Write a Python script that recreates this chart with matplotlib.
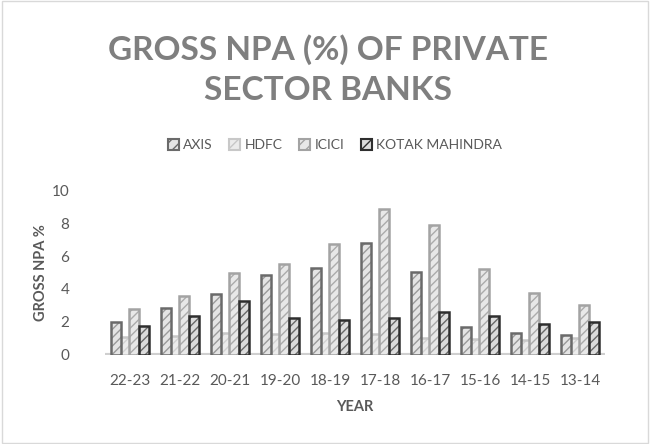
import matplotlib
matplotlib.use("Agg")
import matplotlib.pyplot as plt
import numpy as np
from matplotlib.patches import Rectangle

years = ["22-23", "21-22", "20-21", "19-20", "18-19", "17-18", "16-17", "15-16", "14-15", "13-14"]
axis_v = [2.02, 2.82, 3.70, 4.86, 5.26, 6.77, 5.04, 1.67, 1.34, 1.22]
hdfc_v = [1.12, 1.17, 1.32, 1.26, 1.36, 1.30, 1.05, 0.94, 0.90, 1.00]
icici_v = [2.81, 3.60, 4.96, 5.53, 6.70, 8.84, 7.89, 5.21, 3.78, 3.03]
kotak_v = [1.78, 2.34, 3.25, 2.25, 2.14, 2.22, 2.59, 2.36, 1.85, 1.98]
series_names = ["AXIS", "HDFC", "ICICI", "KOTAK MAHINDRA"]

plt.rcParams['font.family'] = ['Lato', 'DejaVu Sans']
plt.rcParams['hatch.linewidth'] = 1.0

fig = plt.figure(figsize=(6.5, 4.44), dpi=100)
fig.patches.append(Rectangle((0.003, 0.003), 0.994, 0.994, transform=fig.transFigure,
                             fill=False, edgecolor='#d9d9d9', linewidth=1))
ax = fig.add_axes([0.162, 0.2005, 0.769, 0.3715])

styles = [
    dict(facecolor='#e4e4e4', edgecolor='#6a6a6a', hatch_color='#9a9a9a'),
    dict(facecolor='#ececec', edgecolor='#c8c8c8', hatch_color='#d2d2d2'),
    dict(facecolor='#e8e8e8', edgecolor='#a3a3a3', hatch_color='#ababab'),
    dict(facecolor='#dcdcdc', edgecolor='#2e2e2e', hatch_color='#6a6a6a'),
]
x = np.arange(len(years))
w = 0.2
offsets = [-0.29, -0.1, 0.08, 0.27]
data = [axis_v, hdfc_v, icici_v, kotak_v]
handles = []
for i, (vals, st) in enumerate(zip(data, styles)):
    z = 2 if i == 1 else 3
    ax.bar(x + offsets[i], vals, width=w, facecolor=st['facecolor'],
           edgecolor=st['hatch_color'], hatch='////', linewidth=0, zorder=z)
    ax.bar(x + offsets[i], vals, width=w, facecolor='none',
           edgecolor=st['edgecolor'], linewidth=1.8, zorder=z)
    handles.append(Rectangle((0, 0), 1, 1, facecolor=st['facecolor'], edgecolor=st['edgecolor'],
                             hatch='///', linewidth=1.5))

ax.axhline(0, color='#cfcfcf', linewidth=3, zorder=1)
ax.set_xlim(-0.5, 9.5)
ax.set_ylim(0, 10)
ax.set_yticks([0, 2, 4, 6, 8, 10])
ax.set_xticks(x)
ax.set_xticklabels(years)
for s in ax.spines.values():
    s.set_visible(False)
ax.tick_params(axis='both', length=0, colors='#595959', labelsize=11)
ax.tick_params(axis='x', pad=14)
ax.tick_params(axis='y', pad=26)
ax.set_ylabel("GROSS NPA %", fontsize=10.5, fontweight='bold', color='#595959')
ax.yaxis.set_label_coords(-0.115, 0.5)
ax.set_xlabel("YEAR", fontsize=10.5, fontweight='bold', color='#595959', labelpad=8)

fig.text(0.505, 0.888, "GROSS NPA (%) OF PRIVATE", ha='center', va='center', fontsize=24,
         fontweight='bold', color='#7f7f7f')
fig.text(0.505, 0.797, "SECTOR BANKS", ha='center', va='center', fontsize=24,
         fontweight='bold', color='#7f7f7f')

fig.legend(handles, series_names, loc='center', bbox_to_anchor=(0.515, 0.673), ncol=4,
           frameon=False, fontsize=10, handlelength=0.8, handleheight=0.8,
           handletextpad=0.3, columnspacing=1.2, labelcolor='#595959')

fig.savefig("out.png", dpi=100)
